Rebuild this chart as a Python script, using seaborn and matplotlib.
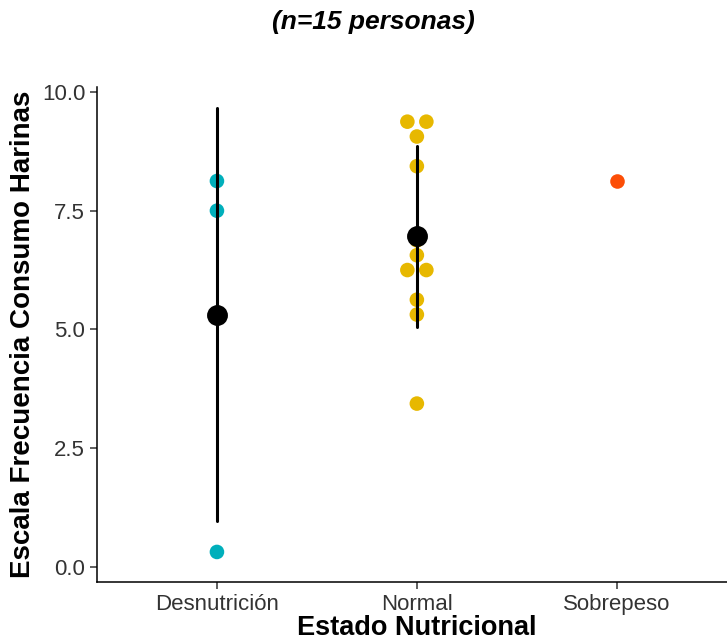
import numpy as np
import pandas as pd
import matplotlib
matplotlib.use("Agg")
import matplotlib.pyplot as plt
import seaborn as sns

# datos (escala 0-10)
estados = ["Desnutrición", "Normal", "Sobrepeso"]
colores = ["#00AFBB", "#E7B800", "#FC4E07"]
desnutricion = [8.125, 7.5, 0.3125]
normal = [9.375, 9.375, 9.0625, 8.4375, 6.875, 6.5625, 6.25, 6.25, 5.625, 5.3125, 3.4375]
sobrepeso = [8.125]

df = pd.DataFrame({
    "estado": ["Desnutrición"] * len(desnutricion) + ["Normal"] * len(normal) + ["Sobrepeso"] * len(sobrepeso),
    "valor": desnutricion + normal + sobrepeso,
})

sns.set_style("ticks")
plt.rcParams['font.family'] = ['Liberation Sans', 'DejaVu Sans']

fig = plt.figure(figsize=(7.27, 6.43), dpi=100)
ax = fig.add_axes([0.1334, 0.0949, 0.880, 0.7694])

sns.stripplot(data=df, x="estado", y="valor", hue="estado", order=estados, hue_order=estados,
              palette=colores, size=10.5, linewidth=0, jitter=False, legend=False, ax=ax)

# apilar centrados los valores repetidos (como geom_dotplot stackdir="center")
paso = 0.095  # separacion entre puntos repetidos, en unidades de categoria
for coll in ax.collections:
    off = np.array(coll.get_offsets())
    if len(off) == 0:
        continue
    for yv in np.unique(off[:, 1]):
        idx = np.where(off[:, 1] == yv)[0]
        k = len(idx)
        if k > 1:
            off[idx, 0] += (np.arange(k) - (k - 1) / 2) * paso
    coll.set_offsets(off)
    coll.set_zorder(2)

# media +- sd (solo grupos con mas de un dato)
n = df.groupby("estado")["valor"].transform("count")
sns.pointplot(data=df[n > 1], x="estado", y="valor", order=estados, errorbar="sd",
              color="black", linestyle="none", markersize=13,
              err_kws={"linewidth": 2.2, "zorder": 4}, ax=ax)
for coll in ax.collections[-1:]:
    coll.set_zorder(5)
for ln in ax.lines:
    ln.set_zorder(5)

ax.set_xlim(-0.6, 2.6)
ax.set_ylim(-0.32, 10.1)
ax.set_yticks([0, 2.5, 5, 7.5, 10])
ax.set_yticklabels(["0.0", "2.5", "5.0", "7.5", "10.0"])
sns.despine(ax=ax)
ax.spines["left"].set_linewidth(1.1)
ax.spines["bottom"].set_linewidth(1.1)
ax.spines["left"].set_color("black")
ax.spines["bottom"].set_color("black")
ax.tick_params(axis="both", labelsize=16, length=5, width=1.1, colors="#333333", labelcolor="#333333")

ax.set_xlabel("Estado Nutricional", fontsize=19.5, fontweight="bold", labelpad=0, color="black")
ax.set_ylabel("Escala Frecuencia Consumo Harinas", fontsize=20, fontweight="bold", labelpad=4, color="black")
fig.text(0.513, 0.966, "(n=15 personas)", ha="center", va="center",
         fontsize=19, fontweight="bold", fontstyle="italic", color="black")

fig.savefig("out.png", dpi=100)
